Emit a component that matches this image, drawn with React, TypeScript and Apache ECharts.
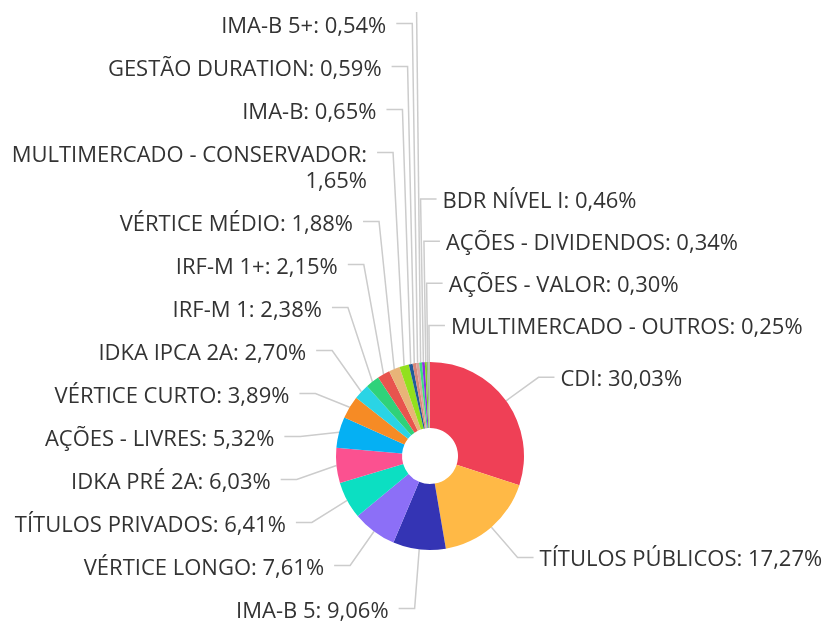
import React, { useEffect, useRef } from "react";
import * as echarts from "echarts";

const categories = [
  "CDI",
  "TÍTULOS PÚBLICOS",
  "IMA-B 5",
  "VÉRTICE LONGO",
  "TÍTULOS PRIVADOS",
  "IDKA PRÉ 2A",
  "AÇÕES - LIVRES",
  "VÉRTICE CURTO",
  "IDKA IPCA 2A",
  "IRF-M 1",
  "IRF-M 1+",
  "VÉRTICE MÉDIO",
  "MULTIMERCADO - CONSERVADOR",
  "IMA-B",
  "GESTÃO DURATION",
  "IMA-B 5+",
  "", // slice whose label lies above the visible area
  "BDR NÍVEL I",
  "AÇÕES - DIVIDENDOS",
  "AÇÕES - VALOR",
  "MULTIMERCADO - OUTROS",
];

const values = [
  30.03, 17.27, 9.06, 7.61, 6.41, 6.03, 5.32, 3.89, 2.7, 2.38, 2.15, 1.88,
  1.65, 0.65, 0.59, 0.54, 0.49, 0.46, 0.34, 0.3, 0.25,
];

const colors = [
  "#ef4056",
  "#ffb946",
  "#3434b4",
  "#8c6ff7",
  "#0cdfc2",
  "#fb5190",
  "#05b0f3",
  "#f68b25",
  "#2ad4e5",
  "#2fd27a",
  "#e8544e",
  "#e8b478",
  "#92e01d",
  "#1f5b99",
  "#d7887a",
  "#dba29c",
  "#3ddc84",
  "#8e2de2",
  "#7ed321",
  "#9aa89a",
  "#b5c4a5",
];

// labels drawn by the second (label-only) series
const sideLabels = [
  "",
  "BDR NÍVEL I",
  "AÇÕES - DIVIDENDOS",
  "AÇÕES - VALOR",
  "MULTIMERCADO - OUTROS",
];
const sideLineLength = [350, 163, 121, 79, 37];
// the two-line label sorts between its neighbours
const shortLine: Record<string, number> = { "MULTIMERCADO - CONSERVADOR": 25 };

const W = 828;
const CX = 430;
const CY = 456;
const R0 = 28;
const R = 94;
const LEN = 40;
const LEN2 = 16;
const DIST_LEFT = 10;
const DIST_RIGHT = 6;
const LH = 26;
const SIDE_ROT = 5;

const fmt = (v: number) => v.toFixed(2).replace(".", ",") + "%";

const labelBase = {
  position: "outer",
  formatter: (p: any) => (p.name ? `${p.name}: ${fmt(p.value)}` : " "),
  fontFamily: "Open Sans",
  fontSize: 22,
  lineHeight: LH,
  color: "#333",
  overflow: "break",
  distanceToLabelLine: DIST_RIGHT,
  bleedMargin: 0,
};

const lineStyle = { color: "#ccc", width: 1.5 };

// keep the vertical position found by ECharts, but put the elbow of the
// label line on the slice's own radial direction
const makeLayout = (rotDeg: number, pad: number) => (p: any) => {
  const pts = p.labelLinePoints;
  if (!pts || !p.labelRect) return {};
  const a =
    Math.atan2(pts[0][1] - CY, pts[0][0] - CX) - (rotDeg * Math.PI) / 180;
  const nx = Math.cos(a);
  const ny = Math.sin(a);
  const dir = p.align === "right" ? -1 : 1;
  const elbowX = CX + nx * (R + LEN);
  const rect = p.labelRect;
  const lineY = rect.y + pad + LH / 2;
  const midY = rect.y + rect.height / 2;
  const blank = !p.text || !String(p.text).trim();
  const len2 = blank ? 0 : LEN2;
  const x = elbowX + dir * (len2 + (dir < 0 ? DIST_LEFT : DIST_RIGHT));
  const multiLine = rect.height > LH + 2 * pad + 2;
  const out: any = {
    x,
    y: midY,
    align: p.align,
    verticalAlign: "middle",
    labelLinePoints: [
      [CX + nx * R, CY + ny * R],
      [elbowX, lineY],
      [elbowX + dir * len2, lineY],
    ],
  };
  if (multiLine) out.width = dir < 0 ? x - 6 : W - x - 6;
  return out;
};

export default function App() {
  const ref = useRef<HTMLDivElement>(null);
  useEffect(() => {
    if (!ref.current) return;
    const chart = echarts.init(ref.current, undefined, { renderer: "svg" });
    const mainData = categories.map((name, i) => {
      const side = sideLabels.includes(name);
      return {
        name,
        value: values[i],
        itemStyle: { color: colors[i] },
        label: { show: !side },
        labelLine: { show: !side, length: shortLine[name] ?? LEN },
      };
    });
    const sideData = categories.map((name, i) => {
      const k = sideLabels.indexOf(name);
      return {
        name,
        value: values[i],
        itemStyle: { color: "rgba(0,0,0,0)" },
        label: { show: k >= 0 },
        labelLine: {
          show: k >= 0,
          length: k >= 0 ? sideLineLength[k] : LEN,
          length2: LEN2,
        },
      };
    });
    chart.setOption({
      animation: false,
      series: [
        {
          type: "pie",
          center: [CX, CY],
          radius: [R0, R],
          startAngle: 90,
          clockwise: true,
          avoidLabelOverlap: true,
          data: mainData,
          label: { ...labelBase, show: true, padding: [7.5, 0] },
          labelLine: {
            show: true,
            length: LEN,
            length2: LEN2,
            smooth: false,
            lineStyle,
          },
          labelLayout: makeLayout(0, 7.5),
          emphasis: { disabled: true },
        },
        {
          type: "pie",
          center: [CX, CY],
          radius: [R0, R],
          startAngle: 90 - SIDE_ROT,
          clockwise: true,
          silent: true,
          avoidLabelOverlap: true,
          data: sideData,
          label: { ...labelBase, show: true, padding: [6, 0] },
          labelLine: { show: true, smooth: false, lineStyle },
          labelLayout: makeLayout(SIDE_ROT, 6),
          emphasis: { disabled: true },
          z: 1,
        },
      ],
    });
    return () => chart.dispose();
  }, []);
  return (
    <div
      style={{
        position: "fixed",
        left: 0,
        top: 0,
        width: W,
        height: 622,
        overflow: "hidden",
      }}
    >
      <div ref={ref} style={{ width: W, height: 630 }} />
    </div>
  );
}
